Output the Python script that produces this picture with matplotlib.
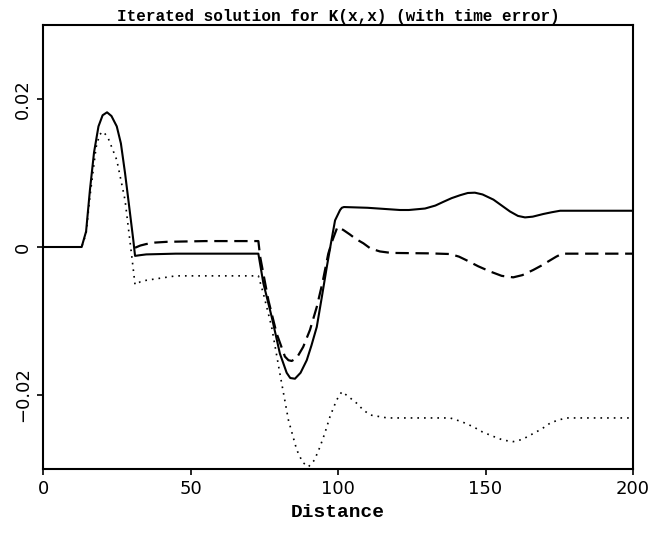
import matplotlib
matplotlib.use('Agg')
import matplotlib.pyplot as plt

# solid curve
solid_x = [0, 13.1, 14.6, 15.9, 17.3, 18.8, 20.2, 21.7, 23.2, 25.0, 26.4, 27.8, 29.2,
           30.6, 31.2, 33, 35, 45, 60, 73,
           74.7, 77.5, 80.3, 82.6, 83.8, 85.4, 87.3, 89.4, 91.0, 92.8, 94.5, 96.2,
           97.6, 99.0, 100.7, 101.3, 102, 110,
           121, 124, 129.5, 133, 135.7, 138.5, 141.4, 144, 146.4, 149, 152.7, 155.5,
           158.3, 161, 163.4, 166, 169.6, 172.5, 175.3, 178.6, 200]
solid_y = [0, 0, 0.0021, 0.0077, 0.0128, 0.0163, 0.0178, 0.0182, 0.0177, 0.0163,
           0.0140, 0.0100, 0.0055, 0.00095, -0.0012, -0.0011, -0.0010, -0.0009,
           -0.0009, -0.0009,
           -0.0049, -0.0094, -0.0144, -0.0170, -0.0177, -0.0178, -0.0170, -0.0153,
           -0.0133, -0.0108, -0.0068, -0.0027, 0.0005, 0.0036, 0.0050, 0.0053,
           0.0054, 0.0053,
           0.0050, 0.0050, 0.0052, 0.0056, 0.0061, 0.0066, 0.0070, 0.0073, 0.00734,
           0.0071, 0.0064, 0.0056, 0.0048, 0.0042, 0.0040, 0.0041, 0.00446, 0.0047,
           0.0049, 0.0049, 0.0049]

# dashed curve
dashed_x = [31.2, 33, 35, 38, 42, 55, 73, 73.6, 76.4, 79.2, 82.0, 83.2, 84.3, 86.0,
            88.2, 90.5, 92.8, 94.8, 96.7, 98.2, 99.8, 101.8, 104, 106, 108.6, 111,
            114.2, 118, 131, 138, 141, 143.6, 147.5, 151.5, 155.5, 159.4, 162.5, 166.2,
            169, 171.9, 174, 176, 200]
dashed_y = [-0.0001, 0.0002, 0.0004, 0.0006, 0.0007, 0.0008, 0.0008, -0.0013, -0.0072,
            -0.0117, -0.0148, -0.0153, -0.0154, -0.0150, -0.0135, -0.0112, -0.0081,
            -0.0047, -0.0009, 0.0010, 0.0027, 0.0023, 0.0017, 0.0011, 0.0005, -0.0002,
            -0.0006, -0.0008, -0.00086, -0.00095, -0.0013, -0.0018, -0.0026, -0.0033,
            -0.0039, -0.0041, -0.0038, -0.0031, -0.0025, -0.0018, -0.0013, -0.0009,
            -0.0009]

# dotted curve
dotted_x = [0, 13.1, 14.6, 15.9, 18.0, 19.2, 20.4, 22.0, 25.0, 27.8, 30.1, 31.2, 33,
            35, 45, 60, 73,
            74.7, 77.5, 80.3, 83.2, 86.0, 88.0, 90.0, 92.0, 93.9, 95.5, 97.3, 99.5,
            101.3, 103.5, 106.3, 108.5, 110.9, 116.7, 138, 141.9, 145.9, 149, 152.7,
            156, 159.4, 162.5, 166.2, 169, 171.9, 174.5, 177.5, 200]
dotted_y = [0, 0, 0.0018, 0.0068, 0.0135, 0.0152, 0.0156, 0.0148, 0.01176, 0.00635,
            -0.0013, -0.0051, -0.0047, -0.0045, -0.0039, -0.0039, -0.0039,
            -0.0063, -0.0108, -0.0171, -0.0234, -0.0274, -0.0291, -0.0297, -0.0288,
            -0.0270, -0.0252, -0.0229, -0.0207, -0.01955, -0.0202, -0.0211, -0.0220,
            -0.0227, -0.0231, -0.0231, -0.0236, -0.0243, -0.0250, -0.0256, -0.0261,
            -0.0263, -0.0260, -0.0252, -0.0246, -0.0238, -0.0234, -0.0231, -0.0231]

x_ticks = [0, 50, 100, 150, 200]
y_ticks = [-0.02, 0, 0.02]
y_tick_labels = ['\u22120.02', '0', '0.02']

fig = plt.figure(figsize=(6.68, 5.34), dpi=100)
ax = fig.add_axes([0.0644, 0.1217, 0.8832, 0.8315])

ax.plot(solid_x, solid_y, color='black', lw=1.5, ls='-')
ax.plot(dashed_x, dashed_y, color='black', lw=1.6, ls=(0, (6, 3)))
ax.plot(dotted_x, dotted_y, color='black', lw=1.2, ls=(0, (1, 3)))

ax.set_xlim(0, 200)
ax.set_ylim(-0.03, 0.03)
ax.set_xticks(x_ticks)
ax.set_xticklabels([str(t) for t in x_ticks], fontsize=13, family='DejaVu Sans')
ax.set_yticks(y_ticks)
ax.set_yticklabels(y_tick_labels, fontsize=13, family='DejaVu Sans',
                   rotation=90, va='center')
ax.tick_params(direction='out', length=4, width=1.2, pad=4)
for s in ax.spines.values():
    s.set_linewidth(1.5)

ax.set_title('Iterated solution for K(x,x) (with time error)',
             family='Liberation Mono', fontweight='bold', fontsize=11.5, pad=3)
ax.set_xlabel('Distance', family='Liberation Mono', fontweight='bold',
              fontsize=14, labelpad=4)

fig.savefig('out.png', dpi=100)
